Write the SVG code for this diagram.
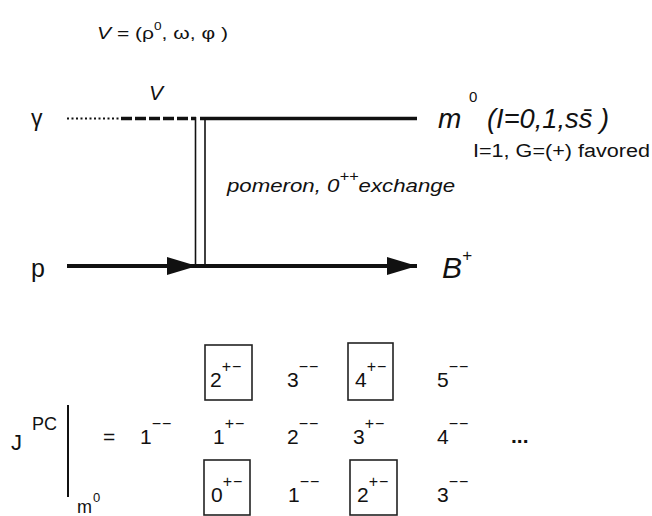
<svg xmlns="http://www.w3.org/2000/svg" width="652" height="516" viewBox="0 0 652 516">
<style>
text{font-family:"Liberation Sans",Arial,sans-serif;fill:#111}
.it{font-style:italic}
.sup{font-size:16px;letter-spacing:1px}
.dig{font-size:21px}
.box{fill:none;stroke:#222;stroke-width:1.6}
</style>
<defs>
<marker id="ah" markerWidth="30" markerHeight="20" refX="30" refY="10" orient="auto" markerUnits="userSpaceOnUse">
<path d="M0,1 L30,10 L0,19 Z" fill="#111"/>
</marker>
</defs>
<rect width="652" height="516" fill="#fff"/>

<g id="title">
<text x="97" y="39" font-size="17" textLength="131" lengthAdjust="spacingAndGlyphs"><tspan class="it">V</tspan> = (ρ<tspan dy="-9" font-size="11">0</tspan><tspan dy="9">, ω, φ )</tspan></text>
</g>

<g id="connectors" fill="none" stroke="#111">
<line x1="67" y1="118.5" x2="119" y2="118.5" stroke-width="2" stroke-dasharray="2,2.5"/>
<line x1="121" y1="118.5" x2="196" y2="118.5" stroke-width="3.5" stroke-dasharray="11,3"/>
<line x1="200" y1="118.5" x2="417" y2="118.5" stroke-width="3.5"/>
<line x1="195.5" y1="117" x2="195.5" y2="266" stroke-width="1.6"/>
<line x1="205" y1="118" x2="205" y2="266" stroke-width="1.6"/>
<line x1="67" y1="266" x2="197" y2="266" stroke-width="4" marker-end="url(#ah)"/>
<line x1="197" y1="266" x2="417" y2="266" stroke-width="4" marker-end="url(#ah)"/>
</g>

<g id="node-V"><text class="it" x="149" y="100" font-size="21">V</text></g>
<g id="node-gamma"><text x="31" y="126" font-size="23">γ</text></g>
<g id="node-p"><text x="31" y="277" font-size="25">p</text></g>
<g id="node-m0">
<text class="it" x="438" y="128" font-size="28">m</text>
<text x="469" y="102" font-size="15">0</text>
<text class="it" x="487" y="128" font-size="28" textLength="122" lengthAdjust="spacingAndGlyphs">(I=0,1,ss̄ )</text>
<text x="473" y="157" font-size="18" textLength="177" lengthAdjust="spacingAndGlyphs">I=1, G=(+) favored</text>
</g>
<g id="node-pomeron">
<text class="it" x="227" y="192" font-size="19" textLength="228" lengthAdjust="spacingAndGlyphs">pomeron, 0<tspan dy="-11" font-size="14">++</tspan><tspan dy="11">exchange</tspan></text>
</g>
<g id="node-B"><text class="it" x="442" y="278" font-size="30">B<tspan dy="-17" font-size="17">+</tspan></text></g>

<g id="jpc">
<text x="11" y="450" font-size="22">J</text>
<text x="32" y="430" font-size="18">PC</text>
<line x1="68" y1="405" x2="68" y2="497" stroke="#111" stroke-width="2"/>
<text x="77" y="513" font-size="18">m</text>
<text x="93" y="502" font-size="13">0</text>
<text x="103" y="444" font-size="21">=</text>
<text x="511" y="443" font-size="21" font-weight="bold">...</text>
</g>

<g id="row1">
<rect class="box" x="205" y="345" width="47" height="55"/>
<rect class="box" x="348" y="343" width="45" height="57"/>
<text class="dig" x="210" y="387">2<tspan class="sup" dy="-15">+−</tspan></text>
<text class="dig" x="287" y="387">3<tspan class="sup" dy="-15">−−</tspan></text>
<text class="dig" x="355" y="387">4<tspan class="sup" dy="-15">+−</tspan></text>
<text class="dig" x="437" y="387">5<tspan class="sup" dy="-15">−−</tspan></text>
</g>

<g id="row2">
<text class="dig" x="140" y="444">1<tspan class="sup" dy="-15">−−</tspan></text>
<text class="dig" x="213" y="444">1<tspan class="sup" dy="-15">+−</tspan></text>
<text class="dig" x="287" y="444">2<tspan class="sup" dy="-15">−−</tspan></text>
<text class="dig" x="353" y="444">3<tspan class="sup" dy="-15">+−</tspan></text>
<text class="dig" x="437" y="444">4<tspan class="sup" dy="-15">−−</tspan></text>
</g>

<g id="row3">
<rect class="box" x="204" y="460" width="46" height="55"/>
<rect class="box" x="350" y="460" width="47" height="55"/>
<text class="dig" x="211" y="502">0<tspan class="sup" dy="-15">+−</tspan></text>
<text class="dig" x="288" y="502">1<tspan class="sup" dy="-15">−−</tspan></text>
<text class="dig" x="357" y="502">2<tspan class="sup" dy="-15">+−</tspan></text>
<text class="dig" x="437" y="502">3<tspan class="sup" dy="-15">−−</tspan></text>
</g>
</svg>
